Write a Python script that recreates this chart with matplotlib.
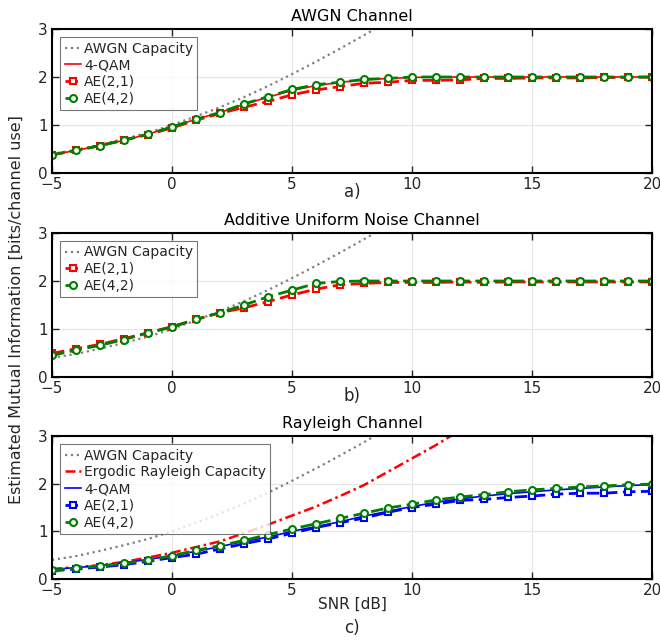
import matplotlib
matplotlib.use("Agg")
import matplotlib.pyplot as plt
import numpy as np

snr = list(range(-5, 21))

# AWGN capacity (visible up to ~9 dB)
awgn_snr = [-5, -4, -3, -2, -1, 0, 1, 2, 3, 4, 5, 6, 7, 8, 9]
awgn_cap = [0.40, 0.48, 0.59, 0.71, 0.84, 1.00, 1.18, 1.37, 1.58, 1.81, 2.06, 2.32, 2.59, 2.87, 3.16]

# Panel a) AWGN channel
a_qam = [0.38, 0.47, 0.57, 0.68, 0.81, 0.96, 1.12, 1.26, 1.43, 1.58, 1.72, 1.82, 1.89, 1.94, 1.97,
         1.99, 2.0, 2.0, 2.0, 2.0, 2.0, 2.0, 2.0, 2.0, 2.0, 2.0]
a_ae21 = [0.38, 0.47, 0.57, 0.69, 0.80, 0.94, 1.10, 1.24, 1.37, 1.49, 1.63, 1.73, 1.80, 1.87, 1.89,
          1.93, 1.93, 1.94, 1.97, 1.97, 1.98, 1.98, 1.98, 1.99, 1.99, 2.0]
a_ae42 = [0.38, 0.47, 0.57, 0.68, 0.81, 0.96, 1.12, 1.26, 1.44, 1.59, 1.74, 1.84, 1.89, 1.95, 1.97,
          2.0, 2.0, 2.0, 2.0, 2.0, 2.0, 2.0, 2.0, 2.0, 2.0, 2.0]

# Panel b) Additive uniform noise channel
b_ae21 = [0.49, 0.59, 0.68, 0.80, 0.92, 1.05, 1.20, 1.34, 1.44, 1.57, 1.71, 1.83, 1.92, 1.95, 1.97,
          1.97, 1.97, 1.98, 1.97, 1.98, 1.98, 1.98, 1.98, 1.98, 1.98, 1.98]
b_ae42 = [0.45, 0.56, 0.66, 0.78, 0.92, 1.04, 1.20, 1.34, 1.50, 1.67, 1.81, 1.95, 1.99, 2.0, 2.0,
          2.0, 2.0, 2.0, 2.0, 2.0, 2.0, 2.0, 2.0, 2.0, 2.0, 2.0]

# Panel c) Rayleigh channel
ray_snr = [-5, -4, -3, -2, -1, 0, 1, 2, 3, 4, 5, 6, 7, 8, 9, 10, 11, 12]
ray_cap = [0.21, 0.25, 0.29, 0.36, 0.45, 0.55, 0.67, 0.79, 0.96, 1.14, 1.33, 1.52, 1.74, 1.97, 2.25, 2.53, 2.81, 3.12]
c_qam = [0.20, 0.24, 0.28, 0.34, 0.41, 0.49, 0.58, 0.68, 0.79, 0.88, 1.00, 1.10, 1.20, 1.32, 1.42,
         1.52, 1.61, 1.68, 1.74, 1.79, 1.83, 1.87, 1.90, 1.93, 1.96, 1.98]
c_ae21 = [0.17, 0.21, 0.25, 0.30, 0.37, 0.45, 0.52, 0.63, 0.74, 0.84, 0.96, 1.08, 1.18, 1.28, 1.40,
          1.50, 1.57, 1.65, 1.67, 1.71, 1.74, 1.78, 1.80, 1.80, 1.83, 1.84]
c_ae42 = [0.18, 0.23, 0.27, 0.33, 0.39, 0.49, 0.60, 0.70, 0.81, 0.93, 1.05, 1.16, 1.27, 1.38, 1.49,
          1.57, 1.66, 1.72, 1.77, 1.83, 1.87, 1.90, 1.93, 1.95, 1.98, 1.99]

plt.rcParams['font.family'] = ['DejaVu Sans']
txt = '#262626'
fig = plt.figure(figsize=(6.6, 6.41), dpi=100)

L, W = 52/660, 600/660
boxes = [(29, 173), (233, 377), (436, 579)]
axs = []
for top, bot in boxes:
    ax = fig.add_axes([L, 1 - bot/641, W, (bot - top)/641])
    axs.append(ax)

gray = '#808080'
red = '#ff0000'
green = '#008000'
blue = '#0000ff'
dash = (0, (4.5, 2))

def style(ax, title):
    ax.set_xlim(-5, 20)
    ax.set_ylim(0, 3)
    ax.set_xticks([-5, 0, 5, 10, 15, 20])
    ax.set_yticks([0, 1, 2, 3])
    ax.grid(True, color='#e6e6e6', lw=0.8)
    ax.set_axisbelow(True)
    ax.tick_params(direction='in', top=True, right=True, length=5, width=1,
                   labelsize=11, colors=txt, labelcolor=txt, pad=3)
    for s in ax.spines.values():
        s.set_linewidth(1.5)
        s.set_color('black')
    ax.set_title(title, fontsize=11.5, color='black', pad=6)

def legend(ax):
    lg = ax.legend(loc='upper left', fontsize=10, frameon=True, fancybox=False,
                   edgecolor='#555555', handlelength=1.2, handletextpad=0.2,
                   borderpad=0.3, labelspacing=0.2, borderaxespad=0.6)
    lg.get_frame().set_linewidth(0.8)
    for t in lg.get_texts():
        t.set_color(txt)

mk = dict(markerfacecolor='white', markeredgewidth=1.5)

# a)
ax = axs[0]
ax.plot(awgn_snr, awgn_cap, ls=':', color=gray, lw=1.6, label='AWGN Capacity')
ax.plot(snr, a_qam, '-', color=red, lw=1.2, label='4-QAM')
ax.plot(snr, a_ae21, ls=dash, color=red, lw=2, marker='s', markersize=4, markeredgecolor=red, label='AE(2,1)', **mk)
ax.plot(snr, a_ae42, ls=dash, color=green, lw=2, marker='o', markersize=5, markeredgecolor=green, label='AE(4,2)', **mk)
style(ax, 'AWGN Channel')
legend(ax)

# b)
ax = axs[1]
ax.plot(awgn_snr, awgn_cap, ls=':', color=gray, lw=1.6, label='AWGN Capacity')
ax.plot(snr, b_ae21, ls=dash, color=red, lw=2, marker='s', markersize=4, markeredgecolor=red, label='AE(2,1)', **mk)
ax.plot(snr, b_ae42, ls=dash, color=green, lw=2, marker='o', markersize=5, markeredgecolor=green, label='AE(4,2)', **mk)
style(ax, 'Additive Uniform Noise Channel')
legend(ax)

# c)
ax = axs[2]
ax.plot(awgn_snr, awgn_cap, ls=':', color=gray, lw=1.6, label='AWGN Capacity')
ax.plot(ray_snr, ray_cap, ls=(0, (4, 1.5, 1, 1.5)), color=red, lw=1.8, label='Ergodic Rayleigh Capacity')
ax.plot(snr, c_qam, '-', color=blue, lw=1.2, label='4-QAM')
ax.plot(snr, c_ae21, ls=dash, color=blue, lw=2, marker='s', markersize=4, markeredgecolor=blue, label='AE(2,1)', **mk)
ax.plot(snr, c_ae42, ls=dash, color=green, lw=2, marker='o', markersize=5, markeredgecolor=green, label='AE(4,2)', **mk)
style(ax, 'Rayleigh Channel')
legend(ax)

cx = (52 + 652) / 2 / 660
fig.text(cx, 1 - 192/641, 'a)', ha='center', va='center', fontsize=12, color=txt)
fig.text(cx, 1 - 396/641, 'b)', ha='center', va='center', fontsize=12, color=txt)
fig.text(cx, 1 - 604/641, 'SNR [dB]', ha='center', va='center', fontsize=11, color=txt)
fig.text(cx, 1 - 628/641, 'c)', ha='center', va='center', fontsize=12, color=txt)
fig.text(16/660, 1 - 310/641, 'Estimated Mutual Information [bits/channel use]', rotation=90,
         ha='center', va='center', fontsize=11.5, color=txt)

fig.savefig('out.png', dpi=100)
